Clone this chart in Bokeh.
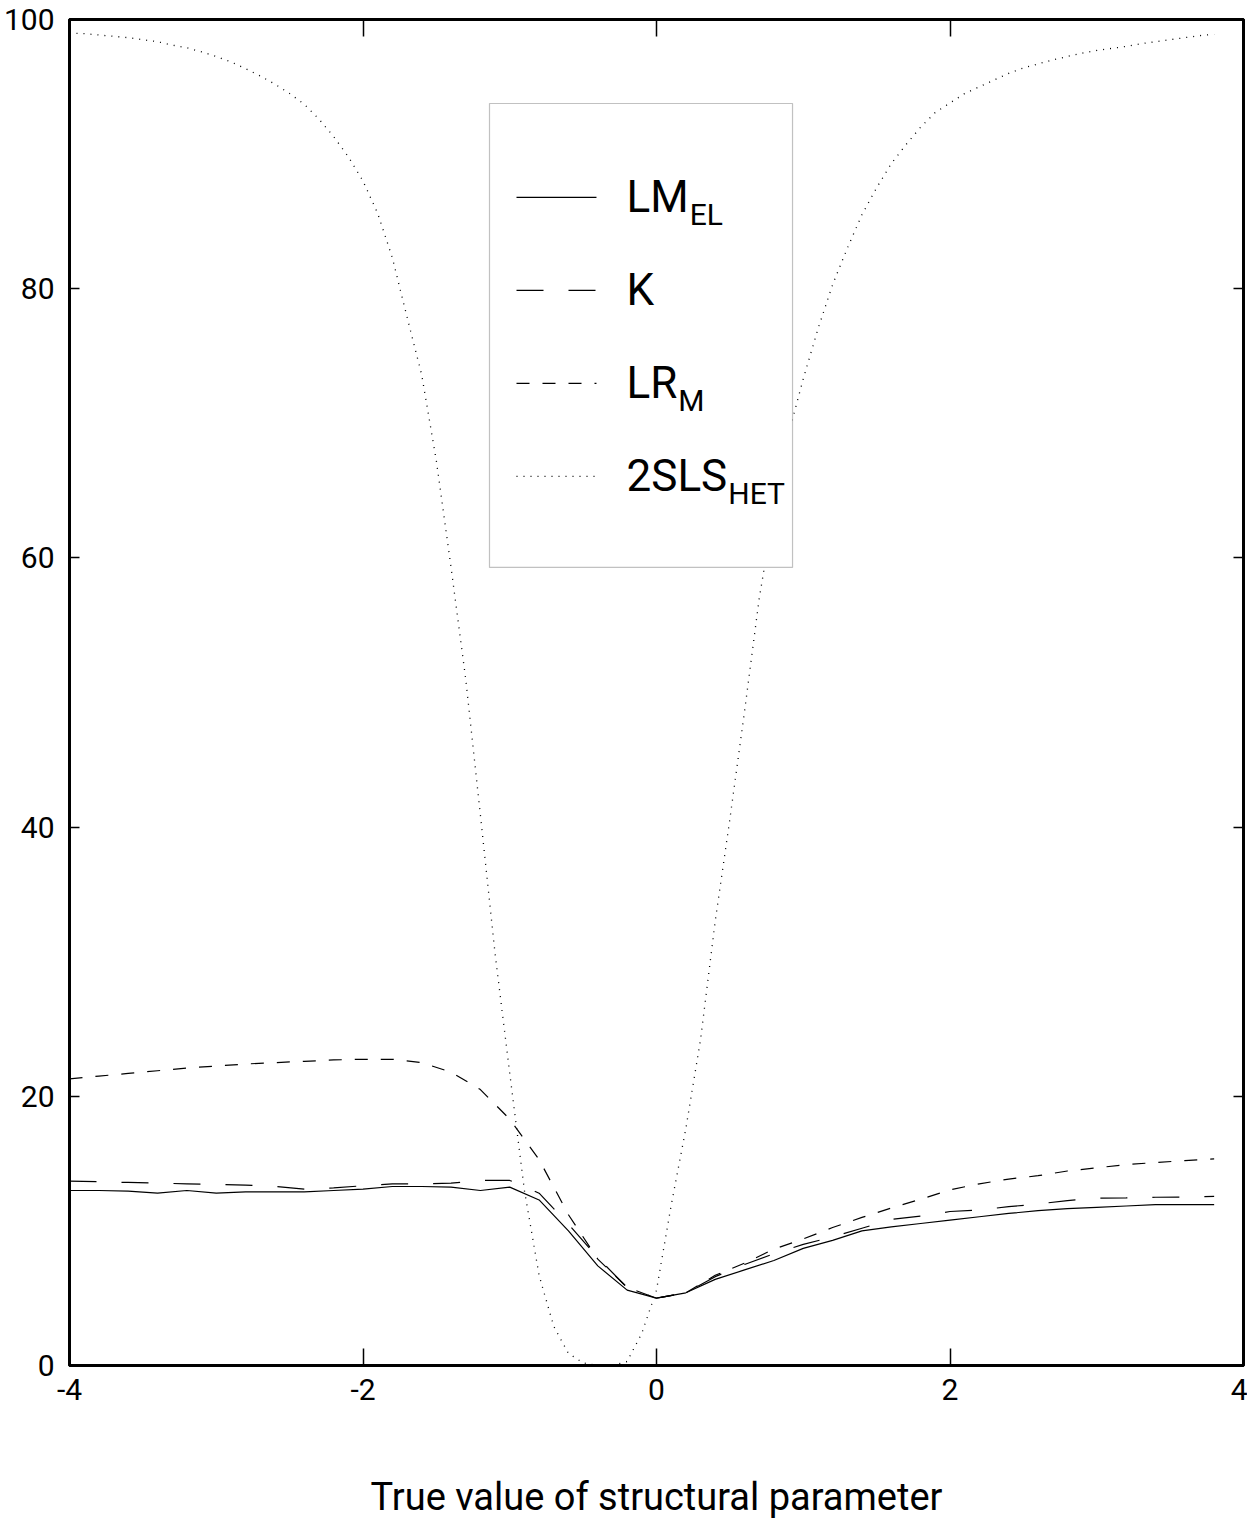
from bokeh.plotting import figure
from bokeh.models import Range1d, LinearAxis, FixedTicker, BoxAnnotation, Arrow, Label
from bokeh.embed import file_html
from bokeh.resources import INLINE

# ---------------- data ----------------
X = [-4.0, -3.8, -3.6, -3.4, -3.2, -3.0, -2.8, -2.6, -2.4, -2.2,
     -2.0, -1.8, -1.6, -1.4, -1.2, -1.0, -0.8, -0.6, -0.4, -0.2,
     0.0, 0.2, 0.4, 0.6, 0.8, 1.0, 1.2, 1.4, 1.6, 1.8,
     2.0, 2.2, 2.4, 2.6, 2.8, 3.0, 3.2, 3.4, 3.6, 3.8]

LM_EL = [13.0, 13.0, 12.95, 12.8, 13.0, 12.8, 12.9, 12.9, 12.9, 13.0,
         13.1, 13.3, 13.3, 13.25, 13.0, 13.25, 12.3, 10.0, 7.4, 5.6,
         5.0, 5.4, 6.4, 7.1, 7.8, 8.7, 9.3, 10.0, 10.3, 10.55,
         10.8, 11.05, 11.3, 11.5, 11.65, 11.75, 11.85, 11.95, 11.95, 11.95]

K = [13.7, 13.65, 13.6, 13.55, 13.5, 13.45, 13.4, 13.3, 13.1, 13.2,
     13.35, 13.5, 13.5, 13.55, 13.75, 13.75, 12.8, 10.5, 8.0, 5.8,
     5.0, 5.4, 6.6, 7.5, 8.3, 9.0, 9.55, 10.2, 10.85, 11.1,
     11.44, 11.55, 11.8, 12.0, 12.25, 12.43, 12.45, 12.5, 12.52, 12.56]

LR_M = [21.3, 21.5, 21.7, 21.9, 22.1, 22.25, 22.4, 22.5, 22.6, 22.7,
        22.75, 22.75, 22.5, 21.8, 20.5, 18.3, 15.3, 11.2, 7.9, 5.8,
        5.0, 5.4, 6.7, 7.6, 8.65, 9.4, 10.25, 11.0, 11.7, 12.35,
        13.05, 13.5, 13.85, 14.1, 14.45, 14.69, 14.92, 15.08, 15.22, 15.35]

X_HET = [-4.0, -3.9, -3.8, -3.7, -3.6, -3.5, -3.4, -3.3, -3.2, -3.1,
         -3.0, -2.9, -2.8, -2.7, -2.6, -2.5, -2.4, -2.3, -2.2, -2.1,
         -2.0, -1.9, -1.8, -1.7, -1.6, -1.5, -1.4, -1.3, -1.2, -1.1,
         -1.0, -0.9, -0.8, -0.7, -0.6, -0.5, -0.4, -0.3, -0.2, -0.1,
         0.0, 0.1, 0.2, 0.3, 0.4, 0.5, 0.6, 0.7, 0.8, 0.9,
         1.0, 1.1, 1.2, 1.3, 1.4, 1.5, 1.6, 1.7, 1.8, 1.9,
         2.0, 2.1, 2.2, 2.3, 2.4, 2.5, 2.6, 2.7, 2.8, 2.9,
         3.0, 3.1, 3.2, 3.3, 3.4, 3.5, 3.6, 3.7, 3.8]

SLS_HET = [99.0, 98.95, 98.85, 98.75, 98.65, 98.5, 98.35, 98.1, 97.9, 97.6,
           97.25, 96.85, 96.35, 95.8, 95.2, 94.5, 93.7, 92.6, 91.3, 89.8,
           88.0, 85.6, 82.3, 77.9, 73.6, 67.2, 59.3, 51.0, 40.9, 30.6,
           21.7, 13.0, 6.7, 2.9, 0.9, 0.2, 0.0, 0.0, 0.3, 2.4,
           5.6, 11.9, 17.6, 24.2, 33.0, 40.6, 48.6, 57.0, 63.5, 69.2,
           73.3, 77.0, 80.3, 83.0, 85.5, 87.5, 89.3, 90.7, 92.0, 93.1,
           93.8, 94.5, 95.0, 95.5, 96.0, 96.4, 96.7, 97.0, 97.25, 97.5,
           97.7, 97.85, 98.0, 98.2, 98.35, 98.5, 98.65, 98.8, 98.9]

X_TICKS = [-4, -2, 0, 2, 4]
X_TICK_LABELS = {-4: "-4", -2: "-2", 0: "0", 2: "2", 4: "4"}
Y_TICKS = [0, 20, 40, 60, 80, 100]
X_LABEL = "True value of structural parameter"
LEGEND_MAIN = ["LM", "K", "LR", "2SLS"]
LEGEND_SUB = ["EL", "", "M", "HET"]

# ---------------- style ----------------
FONT = "Roboto"
DASHES = ["solid", "27 25", "13 13", "1 6"]
WIDTHS = [1.2, 1.2, 1.2, 1.3]
MAIN_SIZE = 44
SUB_SIZE = 30
# advance widths (em) of Roboto capitals/digits
CHAR_W = {"L": 0.538, "M": 0.874, "K": 0.618, "R": 0.614, "2": 0.562, "S": 0.594}

p = figure(frame_width=1174, frame_height=1346,
           x_range=Range1d(-4, 4), y_range=Range1d(0, 100),
           output_backend="svg", toolbar_location=None,
           min_border_left=62, min_border_right=4,
           min_border_top=19, min_border_bottom=150)
p.background_fill_color = "white"
p.border_fill_color = "white"
p.outline_line_color = "black"
p.outline_line_width = 3
p.grid.visible = False

xa = p.xaxis[0]
xa.ticker = FixedTicker(ticks=X_TICKS)
xa.major_label_overrides = X_TICK_LABELS
xa.axis_label = X_LABEL
xa.axis_label_text_font = FONT
xa.axis_label_text_font_size = "38px"
xa.axis_label_text_font_style = "normal"
xa.axis_label_text_color = "black"
xa.axis_label_standoff = 72
xa.major_label_standoff = 13
xa.major_tick_in = 17
xa.major_tick_out = 0

ya = p.yaxis[0]
ya.ticker = FixedTicker(ticks=Y_TICKS)
ya.major_label_standoff = 15
ya.major_tick_in = 10
ya.major_tick_out = 0

for ax in (xa, ya):
    ax.major_label_text_font = FONT
    ax.major_label_text_font_size = "30px"
    ax.major_label_text_color = "black"
    ax.axis_line_width = 3
    ax.axis_line_color = "black"
    ax.major_tick_line_color = "black"
    ax.major_tick_line_width = 1.5
    ax.minor_tick_line_color = None

for loc, ticks, tin in (("above", X_TICKS, 17), ("right", Y_TICKS, 10)):
    ax = LinearAxis(ticker=FixedTicker(ticks=ticks),
                    major_label_text_font_size="2px",
                    major_label_text_color=None,
                    major_label_standoff=0,
                    axis_line_width=3, axis_line_color="black",
                    major_tick_in=tin, major_tick_out=0,
                    major_tick_line_width=1.5,
                    minor_tick_line_color=None)
    p.add_layout(ax, loc)

series = [(X, LM_EL), (X, K), (X, LR_M), (X_HET, SLS_HET)]
for (xs, ys), dash, w in zip(series, DASHES, WIDTHS):
    p.line(xs, ys, line_color="black", line_width=w, line_dash=dash)

# ---------------- legend (box drawn in data units) ----------------
LEG_LEFT, LEG_RIGHT, LEG_TOP, LEG_BOTTOM = -1.138, 0.927, 93.76, 59.29
ROW_Y = [86.78, 79.87, 72.96, 66.05]
SAMPLE_X0, SAMPLE_X1 = -0.954, -0.409
TEXT_X = -0.204

p.add_layout(BoxAnnotation(left=LEG_LEFT, right=LEG_RIGHT, top=LEG_TOP, bottom=LEG_BOTTOM,
                           fill_color="white", fill_alpha=1.0,
                           line_color="#333333", line_width=1.2))
for ry, dash, w, main, sub in zip(ROW_Y, DASHES, WIDTHS, LEGEND_MAIN, LEGEND_SUB):
    p.add_layout(Arrow(x_start=SAMPLE_X0, y_start=ry, x_end=SAMPLE_X1, y_end=ry,
                       end=None, line_color="black", line_width=w, line_dash=dash))
    p.add_layout(Label(x=TEXT_X, y=ry, text=main,
                       text_font=FONT, text_font_size=f"{MAIN_SIZE}px",
                       text_baseline="middle", text_align="left", text_color="black"))
    if sub:
        off = sum(CHAR_W[c] for c in main) * MAIN_SIZE + 1
        p.add_layout(Label(x=TEXT_X, y=ry, x_offset=off, y_offset=-17, text=sub,
                           text_font=FONT, text_font_size=f"{SUB_SIZE}px",
                           text_baseline="middle", text_align="left", text_color="black"))

open("out.html", "w").write(file_html(p, INLINE))
